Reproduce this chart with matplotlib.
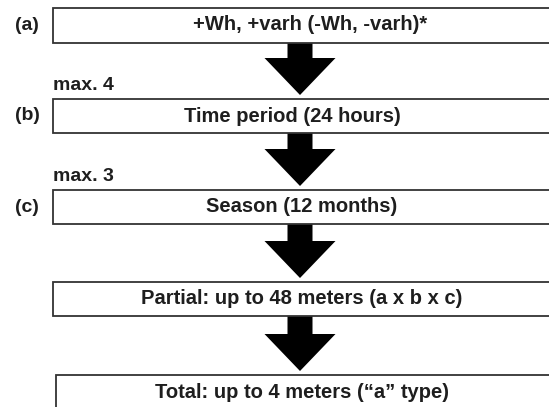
import matplotlib
matplotlib.use("Agg")
import matplotlib.pyplot as plt
from matplotlib.patches import Rectangle, Polygon

W, H = 549, 407

# Content
box_texts = [
    "+Wh, +varh (-Wh, -varh)*",
    "Time period (24 hours)",
    "Season (12 months)",
    "Partial: up to 48 meters (a x b x c)",
    "Total: up to 4 meters (\u201ca\u201d type)",
]
side_labels = ["(a)", "(b)", "(c)", "", ""]
max_labels = ["", "max. 4", "max. 3", "", ""]

# Layout (pixel coords, y downwards)
box_left = [53, 53, 53, 53, 56]
box_top = [8, 99, 190, 282, 375]
box_bottom = [43, 133, 224, 316, 420]
text_y = [25, 116, 207, 299, 392]
text_x = [310, 292, 302, 302, 302]
arrow_cx = 300
shaft_hw = 12.5
head_hw = 35.5

plt.rcParams['font.family'] = ['Liberation Sans', 'DejaVu Sans']
fig = plt.figure(figsize=(W / 100, H / 100), dpi=100)
ax = fig.add_axes([0, 0, 1, 1])
ax.set_xlim(0, W)
ax.set_ylim(H, 0)
ax.axis('off')

ink = '#1e1e1e'
edge = '#333333'
fs = 14
fs_box = 14.5
for i, t in enumerate(box_texts):
    ax.add_patch(Rectangle((box_left[i], box_top[i]), 600 - box_left[i],
                           box_bottom[i] - box_top[i], facecolor='white',
                           edgecolor=edge, lw=1.3, zorder=2))
    ax.text(text_x[i], text_y[i], t, ha='center', va='center', fontsize=fs_box,
            fontweight='bold', color=ink, zorder=3)
    if side_labels[i]:
        ax.text(27, text_y[i], side_labels[i], ha='center', va='center',
                fontsize=fs, fontweight='bold', color=ink)
    if max_labels[i]:
        ax.text(53, box_top[i] - 5, max_labels[i], ha='left', va='bottom',
                fontsize=fs, fontweight='bold', color=ink)

# Arrows between boxes
for i in range(len(box_texts) - 1):
    y0 = box_bottom[i]
    tip = box_top[i + 1] - 4
    head_top = tip - 37
    pts = [(arrow_cx - shaft_hw, y0), (arrow_cx + shaft_hw, y0),
           (arrow_cx + shaft_hw, head_top), (arrow_cx + head_hw, head_top),
           (arrow_cx, tip), (arrow_cx - head_hw, head_top),
           (arrow_cx - shaft_hw, head_top)]
    ax.add_patch(Polygon(pts, closed=True, facecolor='black', edgecolor='none', zorder=1))

fig.savefig('out.png', dpi=100, facecolor='white')
